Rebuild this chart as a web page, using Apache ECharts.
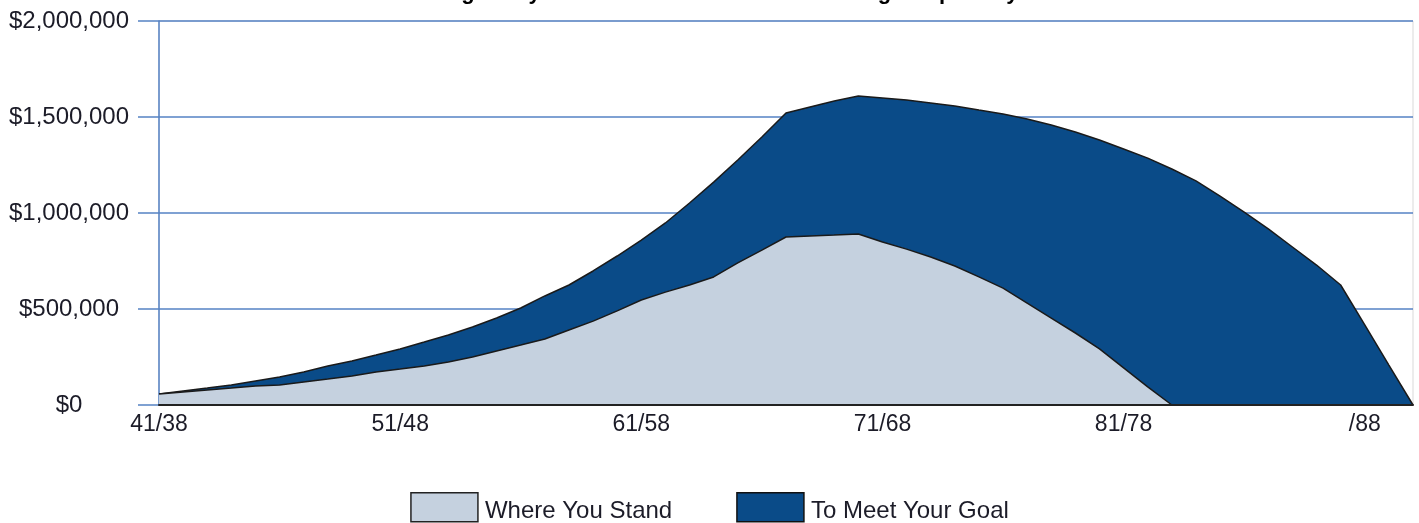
<!DOCTYPE html>
<html>
<head>
<meta charset="utf-8">
<script src="https://cdn.jsdelivr.net/npm/echarts@6/dist/echarts.min.js"></script>
<style>
html,body{margin:0;padding:0;background:#fff;}
#chart{width:1419px;height:523px;}
</style>
</head>
<body>
<div id="chart"></div>
<script>
const titleText = "Retirement Funding Analysis \u2013 Where You Stand vs. Savings Gap Analysis";

const categories = [
  "41/38","42/39","43/40","44/41","45/42","46/43","47/44","48/45","49/46","50/47",
  "51/48","52/49","53/50","54/51","55/52","56/53","57/54","58/55","59/56","60/57",
  "61/58","62/59","63/60","64/61","65/62","66/63","67/64","68/65","69/66","70/67",
  "71/68","72/69","73/70","74/71","75/72","76/73","77/74","78/75","79/76","80/77",
  "81/78","82/79","83/80","84/81","85/82","86/83","87/84","88/85","89/86","90/87",
  "/88","/89","/90"
];

const yTicks = [0, 500000, 1000000, 1500000, 2000000];

const seriesNames = ["Where You Stand", "To Meet Your Goal"];

const whereYouStand = [
  57000, 68000, 78000, 88000, 99000, 104000, 120000, 135000, 151000, 172000,
  187000, 203000, 224000, 250000, 281000, 312000, 344000, 391000, 437000, 490000,
  547000, 588000, 625000, 667000, 740000, 807000, 875000, 880000, 885000, 891000,
  849000, 812000, 771000, 724000, 667000, 609000, 531000, 453000, 375000, 292000,
  193000, 94000, 0, 0, 0, 0, 0, 0, 0, 0,
  0, 0, 0
];

const toMeetYourGoal = [
  57000, 73000, 88000, 104000, 125000, 146000, 172000, 203000, 229000, 260000,
  292000, 328000, 365000, 406000, 453000, 505000, 568000, 625000, 698000, 776000,
  859000, 948000, 1052000, 1161000, 1276000, 1396000, 1521000, 1552000, 1583000, 1609000,
  1599000, 1588000, 1573000, 1557000, 1536000, 1516000, 1490000, 1458000, 1422000, 1380000,
  1333000, 1286000, 1229000, 1167000, 1088000, 1005000, 917000, 823000, 729000, 625000,
  417000, 208000, 0
];

const colors = { stand: "#C5D1DF", goal: "#0A4B88", outline: "#1a1a1a", grid: "#5582C4", text: "#1c1c28" };

function money(v) {
  return "$" + String(v).replace(/\B(?=(\d{3})+(?!\d))/g, ",");
}

const chart = echarts.init(document.getElementById("chart"), null, { renderer: "canvas" });
chart.setOption({
  animation: false,
  backgroundColor: "#ffffff",
  textStyle: { fontFamily: "Arial, 'Liberation Sans', sans-serif" },
  title: {
    text: titleText,
    left: 262,
    top: -23,
    textStyle: { fontSize: 22, fontWeight: "bold", color: "#000", fontFamily: "Arial, 'Liberation Sans', sans-serif" }
  },
  legend: {
    top: 492,
    left: "center",
    padding: 0,
    itemWidth: 67,
    itemHeight: 29,
    itemGap: 64,
    icon: "rect",
    formatter: function (name) { return "{t|" + name + "}"; },
    textStyle: {
      fontSize: 24, color: colors.text,
      rich: { t: { fontSize: 24, color: colors.text, padding: [8, 0, 0, 2] } }
    },
    data: [
      { name: seriesNames[0], icon: "rect", itemStyle: { color: colors.stand, borderColor: "#222", borderWidth: 1.5 } },
      { name: seriesNames[1], icon: "rect", itemStyle: { color: colors.goal, borderColor: "#111", borderWidth: 1.5 } }
    ]
  },
  grid: {
    left: 159, right: 6, top: 21, bottom: 118,
    show: true, borderColor: "#d9d9d9", borderWidth: 1, backgroundColor: "transparent"
  },
  xAxis: {
    type: "category",
    data: categories,
    boundaryGap: false,
    z: 5,
    axisLine: { lineStyle: { color: "#222", width: 2 } },
    axisTick: { show: false },
    axisLabel: { interval: 9, fontSize: 23, color: colors.text, margin: 8 },
    splitLine: { show: false }
  },
  yAxis: {
    type: "value",
    min: yTicks[0],
    max: yTicks[yTicks.length - 1],
    interval: yTicks[1] - yTicks[0],
    axisLine: { show: true, lineStyle: { color: colors.grid, width: 1.5 } },
    axisTick: { show: true, length: 21, lineStyle: { color: colors.grid, width: 1.5 } },
    axisLabel: { fontSize: 24, color: colors.text, margin: 90, align: "center", formatter: money },
    splitLine: { show: true, lineStyle: { color: colors.grid, width: 1.5 } }
  },
  series: [
    {
      name: seriesNames[1],
      type: "line",
      data: toMeetYourGoal,
      symbol: "none",
      smooth: false,
      z: 2,
      itemStyle: { color: colors.goal },
      lineStyle: { color: colors.outline, width: 1.5 },
      areaStyle: { color: colors.goal, opacity: 1 }
    },
    {
      name: seriesNames[0],
      type: "line",
      data: whereYouStand,
      symbol: "none",
      smooth: false,
      z: 3,
      itemStyle: { color: colors.stand },
      lineStyle: { color: colors.outline, width: 1.5 },
      areaStyle: { color: colors.stand, opacity: 1 }
    }
  ]
});
</script>
</body>
</html>
